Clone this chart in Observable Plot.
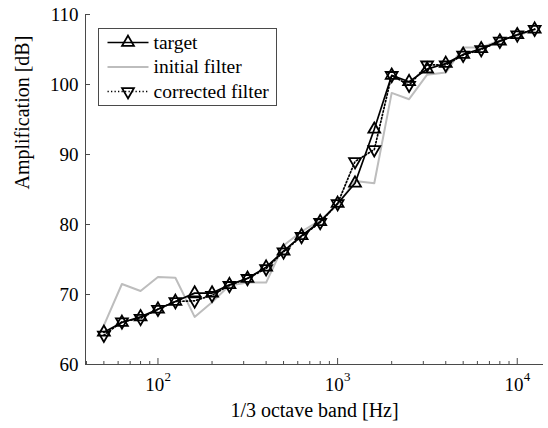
<!DOCTYPE html>
<html><head><meta charset="utf-8">
<script src="https://cdn.jsdelivr.net/npm/d3@7"></script>
<script src="https://cdn.jsdelivr.net/npm/@observablehq/plot@0.6"></script>
<style>body{margin:0;background:#fff} #chart{position:relative;width:548px;height:428px}</style>
</head><body><div id="chart"></div>
<script>
const freqs = [50,63,80,100,125,160,200,250,315,400,500,630,800,1000,1250,1600,2000,2500,3150,4000,5000,6300,8000,10000,12500];
const target = [64.6,66.0,66.8,67.9,69.0,70.2,70.2,71.4,72.3,73.9,76.2,78.4,80.4,83.0,85.9,93.6,101.3,100.4,102.2,103.0,104.3,105.1,106.2,107.1,107.9];
const initialFilter = [65.6,71.5,70.5,72.5,72.4,66.8,68.9,71.3,71.7,71.7,77.0,79.0,80.6,82.8,86.2,85.9,98.8,97.9,101.4,101.7,105.3,105.3,106.3,107.0,107.8];
const correctedFilter = [64.2,66.1,66.6,67.9,69.0,69.1,69.9,71.3,72.3,73.7,76.1,78.3,80.3,83.0,89.0,90.7,101.3,99.9,102.8,102.8,104.2,105.0,106.2,107.1,107.9];
const yTicks = [60,70,80,90,100,110];
const xMajorTicks = [100,1000,10000];
const xTickExponents = ["2","3","4"];
const xMinorTicks = [40,50,60,70,80,90,200,300,400,500,600,700,800,900,2000,3000,4000,5000,6000,7000,8000,9000];
const legendLabels = ["target","initial filter","corrected filter"];
const xLabel = "1/3 octave band [Hz]";
const yLabel = "Amplification [dB]";
const xDomain = [39.5, 14000];
const yDomain = [60, 110];

const rows = freqs.map((f,i)=>({f, target: target[i], initial: initialFilter[i], corrected: correctedFilter[i]}));
const majors = xMajorTicks.map((v,i)=>({v, e: xTickExponents[i]}));

const font = "'Liberation Serif','Times New Roman',Times,serif";
const axisColor = "#4a4a4a";
const grayColor = "#bdbdbd";
const R = 4.4;
const dots = "1.3,2.2";

const plot = Plot.plot({
  width:548, height:428, marginLeft:85, marginRight:5, marginTop:14, marginBottom:64,
  style:{fontFamily:font, fontSize:"19px", background:"white", color:"black"},
  x:{type:"log", domain:xDomain},
  y:{domain:yDomain},
  marks:[
    Plot.ruleX([xDomain[0]], {stroke:axisColor, strokeWidth:1}),
    Plot.ruleY([yDomain[0]], {stroke:axisColor, strokeWidth:1}),
    Plot.axisY({ticks:yTicks, tickSize:0, tickPadding:7, label:null, fill:"black", fontSize:19}),
    Plot.axisY({ticks:yTicks, tickSize:-5, fill:"none", label:null, stroke:axisColor}),
    Plot.axisX({ticks:xMinorTicks, tickSize:-3, fill:"none", label:null, stroke:axisColor}),
    Plot.axisX({ticks:xMajorTicks, tickSize:-6, fill:"none", label:null, stroke:axisColor}),
    Plot.text(majors, {x:"v", frameAnchor:"bottom", text:()=>"10", dx:-3.3, dy:20, lineAnchor:"middle", fill:"black", fontSize:19}),
    Plot.text(majors, {x:"v", frameAnchor:"bottom", text:"e", textAnchor:"start", dx:6.5, dy:12, lineAnchor:"middle", fontSize:13, fill:"black"}),
    Plot.text([xLabel], {frameAnchor:"bottom", text:d=>d, dy:46, lineAnchor:"middle", fill:"black", fontSize:20}),
    Plot.text([yLabel], {frameAnchor:"left", text:d=>d, rotate:-90, dx:-63, fill:"black", fontSize:20}),
    Plot.line(rows,{x:"f", y:"initial", stroke:grayColor, strokeWidth:2}),
    Plot.line(rows,{x:"f", y:"target", stroke:"black", strokeWidth:1.7}),
    Plot.dot(rows,{x:"f", y:"target", symbol:"triangle", r:R, stroke:"black", strokeWidth:1.8, fill:"none"}),
    Plot.line(rows,{x:"f", y:"corrected", stroke:"black", strokeWidth:1.7, strokeDasharray:dots}),
    Plot.dot(rows,{x:"f", y:"corrected", symbol:"triangle", rotate:180, r:R, stroke:"black", strokeWidth:1.8, fill:"none"})
  ]
});
document.getElementById("chart").appendChild(plot);

// legend
const svg = d3.select(plot);
const g = svg.append("g").attr("transform","translate(98.5,28.5)")
  .style("font-family",font).style("font-size","19.5px").attr("text-anchor","start");
g.append("rect").attr("width",178).attr("height",77).attr("fill","white").attr("stroke",axisColor);
const styles = [
  {stroke:"black", dash:null, width:1.7, sym:true, rot:0},
  {stroke:grayColor, dash:null, width:2, sym:false},
  {stroke:"black", dash:dots, width:1.7, sym:true, rot:180}
];
const tri = d3.symbol(d3.symbolTriangle, Math.PI*R*R)();
legendLabels.forEach((lab,i)=>{
  const y = 14 + i*24.5;
  const s = styles[i];
  g.append("line").attr("x1",9).attr("x2",50).attr("y1",y).attr("y2",y)
    .attr("stroke",s.stroke).attr("stroke-width",s.width).attr("stroke-dasharray",s.dash);
  if (s.sym) g.append("path").attr("d",tri).attr("transform",`translate(29.5,${y}) rotate(${s.rot})`)
    .attr("fill","none").attr("stroke","black").attr("stroke-width",1.8);
  g.append("text").attr("x",55).attr("y",y).attr("dy","0.32em").attr("fill","black")
    .style("text-anchor","start").text(lab);
});
</script>
</body></html>
